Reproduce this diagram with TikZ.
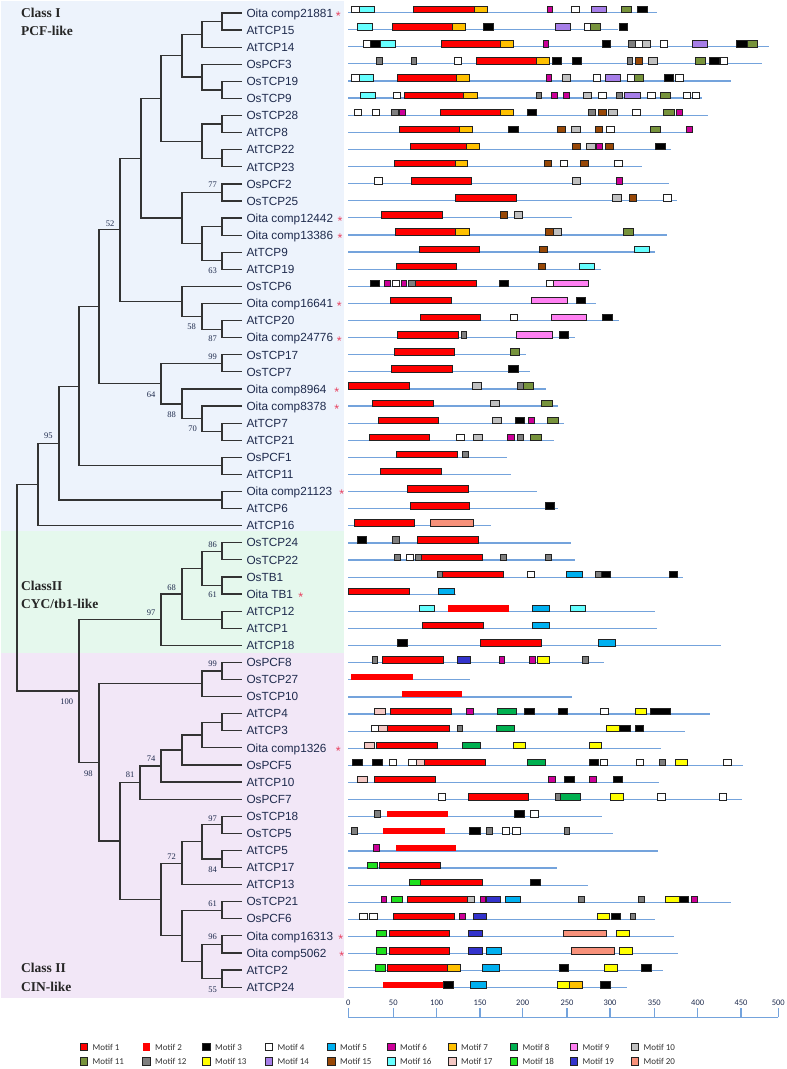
\documentclass[tikz,border=0pt]{standalone}
\usepackage{fontspec}
\setmainfont{Liberation Serif}
\newfontfamily\labfont{Liberation Sans}
\newfontfamily\smallfont{Carlito}
\usetikzlibrary{calc}
\definecolor{bgblue}{HTML}{EDF3FC}
\definecolor{bggreen}{HTML}{E5F8ED}
\definecolor{bgpurple}{HTML}{F2E7F7}
\definecolor{labcol}{HTML}{1F2B4D}
\definecolor{astcol}{HTML}{E8405E}
\definecolor{treecol}{HTML}{333333}
\definecolor{rowcol}{HTML}{74A3DC}
\definecolor{bdr}{HTML}{222222}
\definecolor{c1}{HTML}{FF0000}
\definecolor{c3}{HTML}{000000}
\definecolor{c4}{HTML}{FFFFFF}
\definecolor{c5}{HTML}{00B0F0}
\definecolor{c6}{HTML}{CC0099}
\definecolor{c7}{HTML}{FFC000}
\definecolor{c8}{HTML}{00B050}
\definecolor{c9}{HTML}{FF80F2}
\definecolor{c10}{HTML}{C0C0C0}
\definecolor{c11}{HTML}{77933C}
\definecolor{c12}{HTML}{7F7F7F}
\definecolor{c13}{HTML}{FFFF00}
\definecolor{c14}{HTML}{A67EE8}
\definecolor{c15}{HTML}{984807}
\definecolor{c16}{HTML}{66FFFF}
\definecolor{c17}{HTML}{F4C7C3}
\definecolor{c18}{HTML}{1EE01E}
\definecolor{c19}{HTML}{3333CC}
\definecolor{c20}{HTML}{F7917A}
\tikzset{
  tree/.style={draw=treecol,line width=1.2pt,line join=miter},
  leaflab/.style={anchor=base west,inner sep=0pt,text=labcol,font=\labfont\fontsize{11.8}{12}\selectfont},
  ast/.style={anchor=base,inner sep=0pt,text=astcol,font=\labfont\fontsize{12.5}{12}\selectfont},
  bs/.style={inner sep=0pt,text=labcol,font=\fontsize{8.5}{9}\selectfont},
  cls/.style={anchor=base west,inner sep=0pt,text=black!85,font=\bfseries\fontsize{13.5}{14}\selectfont},
  rowline/.style={draw=rowcol,line width=1.2pt},
  axlab/.style={inner sep=0pt,text=labcol,font=\smallfont\fontsize{8.5}{9}\selectfont},
  leglab/.style={anchor=west,inner sep=0pt,text=black!80,font=\smallfont\fontsize{9}{9}\selectfont},
  mbox/.style={draw=bdr,line width=0.9pt},
  m1/.style={mbox,fill=c1}, m2/.style={fill=c1}, m3/.style={mbox,fill=c3},
  m4/.style={mbox,fill=c4}, m5/.style={mbox,fill=c5}, m6/.style={mbox,fill=c6},
  m7/.style={mbox,fill=c7}, m8/.style={mbox,fill=c8}, m9/.style={mbox,fill=c9},
  m10/.style={mbox,fill=c10}, m11/.style={mbox,fill=c11}, m12/.style={mbox,fill=c12},
  m13/.style={mbox,fill=c13}, m14/.style={mbox,fill=c14}, m15/.style={mbox,fill=c15},
  m16/.style={mbox,fill=c16}, m17/.style={mbox,fill=c17}, m18/.style={mbox,fill=c18},
  m19/.style={mbox,fill=c19}, m20/.style={mbox,fill=c20}
}
\newcommand{\clade}[4]{%
  \path let \p1=(#3), \p2=(#4) in coordinate (#1) at (#2pt,{0.5*\y1+0.5*\y2});
  \draw[tree] (#3) -| (#1) |- (#4);}
\newcommand{\mrow}[2]{%
  \pgfmathsetmacro\myry{12.5+17.11*(#1-1)}%
  \pgfmathsetmacro\myrx{340+#2/3}%
  \draw[rowline] (348.3,\myry) -- (\myrx,\myry);}
\newcommand{\mbs}[2]{%
  \pgfmathsetmacro\myry{12.5+17.11*(#1-1)}%
  \foreach \a/\b/\s in {#2} {%
    \pgfmathsetmacro\myxa{340+\a/3}%
    \pgfmathsetmacro\myxb{340+\b/3}%
    \path[\s] (\myxa,\myry-6) rectangle (\myxb,\myry+0.4);}}
\begin{document}
\begin{tikzpicture}[x=1pt,y=-1pt]
\useasboundingbox (0,0) rectangle (787,1069);
% backgrounds
\fill[bgblue] (1,1) rectangle (344,531);
\fill[bggreen] (1,531) rectangle (344,653);
\fill[bgpurple] (1,653) rectangle (344,998);
% class labels
\node[cls] (cl1) at (21,17.5) {Class I};
\node[cls] (cl2) at (21,35.5) {PCF-like};
\node[cls] (cl3) at (21,590.5) {ClassII};
\node[cls] (cl4) at (21,608.8) {CYC/tb1-like};
\node[cls] (cl5) at (21,972.8) {Class II};
\node[cls] (cl6) at (21,991.2) {CIN-like};
% leaves
\foreach \i/\t in {1/{Oita comp21881},2/AtTCP15,3/AtTCP14,4/OsPCF3,5/OsTCP19,6/OsTCP9,7/OsTCP28,8/AtTCP8,9/AtTCP22,10/AtTCP23,
 11/OsPCF2,12/OsTCP25,13/{Oita comp12442},14/{Oita comp13386},15/AtTCP9,16/AtTCP19,17/OsTCP6,18/{Oita comp16641},19/AtTCP20,20/{Oita comp24776},
 21/OsTCP17,22/OsTCP7,23/{Oita comp8964},24/{Oita comp8378},25/AtTCP7,26/AtTCP21,27/OsPCF1,28/AtTCP11,29/{Oita comp21123},30/AtTCP6,
 31/AtTCP16,32/OsTCP24,33/OsTCP22,34/OsTB1,35/{Oita TB1},36/AtTCP12,37/AtTCP1,38/AtTCP18,39/OsPCF8,40/OsTCP27,
 41/OsTCP10,42/AtTCP4,43/AtTCP3,44/{Oita comp1326},45/OsPCF5,46/AtTCP10,47/OsPCF7,48/OsTCP18,49/OsTCP5,50/AtTCP5,
 51/AtTCP17,52/AtTCP13,53/OsTCP21,54/OsPCF6,55/{Oita comp16313},56/{Oita comp5062},57/AtTCP2,58/AtTCP24} {
  \pgfmathsetmacro\ly{13+17.09*(\i-1)}
  \coordinate (t\i) at (242,\ly);
  \node[leaflab] (l\i) at (246.3,\ly+4.2) {\t};
}
\foreach \i/\x in {1/338.3,13/340,14/340,18/339.3,20/339.3,23/336.7,24/336.7,29/341.7,35/300.7,44/338.3,55/340.7,56/341.7} {
  \node[ast] (a\i) at (\x,{13+17.09*(\i-1)+7.4}) {*};
}
% tree: class I
\clade{n1x2}{222}{t1}{t2}
\clade{n1x3}{202}{n1x2}{t3}
\clade{n5x6}{222}{t5}{t6}
\clade{n4x6}{202}{t4}{n5x6}
\clade{n1x6}{182}{n1x3}{n4x6}
\clade{n7x8}{222}{t7}{t8}
\clade{n9x10}{222}{t9}{t10}
\clade{n7x10}{202}{n7x8}{n9x10}
\clade{n1x10}{161}{n1x6}{n7x10}
\clade{n11x12}{222}{t11}{t12}
\clade{n13x14}{222}{t13}{t14}
\clade{n15x16}{222}{t15}{t16}
\clade{n13x16}{202}{n13x14}{n15x16}
\clade{n11x16}{182}{n11x12}{n13x16}
\clade{n1x16}{141}{n1x10}{n11x16}
\clade{n19x20}{222}{t19}{t20}
\clade{n18x20}{202}{t18}{n19x20}
\clade{n17x20}{182}{t17}{n18x20}
\clade{n1x20}{120}{n1x16}{n17x20}
\clade{n21x22}{222}{t21}{t22}
\clade{n25x26}{222}{t25}{t26}
\clade{n24x26}{202}{t24}{n25x26}
\clade{n23x26}{182}{t23}{n24x26}
\clade{n21x26}{161}{n21x22}{n23x26}
\clade{n1x26}{99}{n1x20}{n21x26}
\clade{n27x28}{222}{t27}{t28}
\clade{n1x28}{79}{n1x26}{n27x28}
\clade{n29x30}{222}{t29}{t30}
\clade{n1x30}{59}{n1x28}{n29x30}
\clade{n1x31}{38}{n1x30}{t31}
% class II
\clade{n32x33}{222}{t32}{t33}
\clade{n34x35}{222}{t34}{t35}
\clade{n32x35}{202}{n32x33}{n34x35}
\clade{n36x37}{222}{t36}{t37}
\clade{n32x37}{182}{n32x35}{n36x37}
\clade{n32x38}{161}{n32x37}{t38}
\clade{n39x40}{222}{t39}{t40}
\clade{n39x41}{202}{n39x40}{t41}
\clade{n42x43}{222}{t42}{t43}
\clade{n42x44}{202}{n42x43}{t44}
\clade{n42x45}{182}{n42x44}{t45}
\clade{n42x46}{161}{n42x45}{t46}
\clade{n42x47}{140}{n42x46}{t47}
\clade{n48x49}{222}{t48}{t49}
\clade{n50x51}{222}{t50}{t51}
\clade{n48x51}{202}{n48x49}{n50x51}
\clade{n48x52}{182}{n48x51}{t52}
\clade{n53x54}{222}{t53}{t54}
\clade{n55x56}{222}{t55}{t56}
\clade{n57x58}{222}{t57}{t58}
\clade{n55x58}{202}{n55x56}{n57x58}
\clade{n53x58}{182}{n53x54}{n55x58}
\clade{n48x58}{161}{n48x52}{n53x58}
\clade{n42x58}{120}{n42x47}{n48x58}
\clade{n39x58}{99}{n39x41}{n42x58}
\clade{n32x58}{79}{n32x38}{n39x58}
\clade{root}{17}{n1x31}{n32x58}
% bootstrap values
\foreach \x/\y/\v [count=\k] in {212.7/185/77,110/224/52,212.7/270.7/63,191.7/326.7/58,212.7/339/87,212.7/356.7/99,151/394.3/64,171.7/415/88,192.7/429/70,48.3/436/95,
 212.7/545/86,212.7/595/61,171.7/587.7/68,151/612.3/97,212.7/663.3/99,66.7/701.7/100,151/759/74,88.3/773.3/98,130/775/81,
 212.7/818.3/97,212.7/869.3/84,171.7/856.7/72,212.7/904/61,212.7/936.7/96,212.7/989.3/55} {
  \node[bs] (bs\k) at (\x,\y) {\v};
}
% motif rows
\foreach \r/\e in {1/952,2/835,3/1288,4/1265,5/1174,6/1085,7/1105,8/1058,9/993,10/905,11/988,12/1010,13/695,14/982,15/945,16/782,
 17/748,18/767,19/836,20/705,21/557,22/570,23/617,24/655,25/672,26/643,27/500,28/512,29/592,30/653,31/452,
 32/692,33/705,34/1028,35/347,36/945,37/952,38/1143,39/793,40/390,41/695,42/1110,43/1035,44/962,45/1208,46/958,
 47/1205,48/785,49/818,50/955,51/651,52/743,53/1174,54/946,55/1003,56/1013,57/968,58/862} {\mrow{\r}{\e}}
\mbs{1}{35/58/m4,58/102/m16,220/402/m1,402/442/m7,622/637/m6,695/717/m4,755/798/m14,845/873/m11,892/922/m3}
\mbs{2}{52/98/m16,158/338/m1,338/375/m7,430/460/m3,647/692/m14,732/752/m4,752/782/m11,837/863/m3}
\mbs{3}{70/90/m4,90/122/m3,122/167/m16,305/480/m1,480/520/m7,609/624/m6,786/812/m3,865/885/m12,885/907/m4,907/930/m10,960/982/m4,1056/1101/m14,1189/1222/m3,1222/1251/m11}
\mbs{4}{110/126/m12,213/229/m12,343/365/m4,408/590/m1,590/627/m7,638/665/m3,697/723/m3,861/877/m12,886/908/m15,926/951/m10,1066/1095/m11,1107/1137/m3,1140/1163/m4}
\mbs{5}{35/58/m4,58/101/m16,172/350/m1,350/388/m7,619/635/m6,666/692/m10,759/780/m4,796/842/m14,861/882/m4,882/911/m11,974/1000/m3,1005/1030/m4}
\mbs{6}{60/105/m16,159/180/m4,193/371/m1,371/412/m7,588/604/m12,633/652/m6,669/689/m6,731/754/m10,776/798/m4,830/846/m12,854/900/m14,922/945/m4,960/990/m11,1029/1051/m4,1056/1078/m4}
\mbs{7}{42/65/m4,97/119/m4,155/175/m12,178/197/m6,302/480/m1,480/520/m7,561/590/m3,745/765/m12,776/800/m15,806/832/m10,877/900/m4,970/1003/m11,1010/1027/m6}
\mbs{8}{179/357/m1,357/398/m7,506/536/m3,652/675/m15,694/720/m10,765/788/m15,800/823/m4,932/962/m11,1038/1058/m6}
\mbs{9}{210/378/m1,378/418/m7,697/720/m15,739/765/m10,769/788/m6,796/820/m15,946/976/m3}
\mbs{10}{162/345/m1,345/381/m7,612/635/m15,660/683/m4,722/745/m15,823/846/m4}
\mbs{11}{104/127/m4,213/395/m1,697/720/m10,830/847/m6}
\mbs{12}{346/528/m1,817/843/m10,868/890/m15,970/993/m4}
\mbs{13}{124/306/m1,480/501/m15,523/546/m10}
\mbs{14}{165/347/m1,347/388/m7,615/640/m15,640/665/m10,850/880/m11}
\mbs{15}{237/418/m1,598/621/m15,882/927/m16}
\mbs{16}{169/350/m1,595/617/m15,718/763/m16}
\mbs{17}{90/119/m3,132/150/m6,156/177/m4,183/198/m6,206/226/m12,226/409/m1,479/505/m3,619/640/m4,640/746/m9}
\mbs{18}{151/333/m1,575/682/m9,710/737/m3}
\mbs{19}{240/422/m1,510/532/m4,633/740/m9,786/816/m3}
\mbs{20}{172/354/m1,363/379/m12,530/637/m9,659/686/m3}
\mbs{21}{162/344/m1,510/539/m11}
\mbs{22}{155/337/m1,506/536/m3}
\mbs{23}{25/207/m1,397/423/m10,533/551/m12,551/579/m11}
\mbs{24}{97/279/m1,452/477/m10,605/637/m11}
\mbs{25}{114/296/m1,458/484/m10,526/553/m3,564/583/m6,622/654/m11}
\mbs{26}{87/269/m1,349/372/m4,400/426/m10,502/522/m6,533/549/m12,571/604/m11}
\mbs{27}{169/351/m1,366/385/m12}
\mbs{28}{121/303/m1}
\mbs{29}{203/385/m1}
\mbs{30}{210/388/m1,615/642/m3}
\mbs{31}{42/224/m1,271/399/m20}
\mbs{32}{52/79/m3,158/177/m12,233/416/m1}
\mbs{33}{162/181/m12,199/221/m4,227/243/m12,243/426/m1,482/500/m12,615/634/m12}
\mbs{34}{291/307/m12,307/491/m1,562/583/m4,680/726/m5,766/783/m12,783/812/m3,987/1013/m3}
\mbs{35}{25/207/m1,295/344/m5}
\mbs{36}{237/283/m16,325/508/m2,578/627/m5,691/737/m16}
\mbs{37}{247/429/m1,578/627/m5}
\mbs{38}{172/201/m3,421/603/m1,776/825/m5}
\mbs{39}{97/112/m12,127/309/m1,353/391/m19,479/494/m6,567/585/m6,591/627/m13,728/746/m12}
\mbs{40}{34/218/m2}
\mbs{41}{185/365/m2}
\mbs{42}{104/135/m17,151/333/m1,380/399/m6,472/528/m8,553/583/m3,655/683/m3,782/805/m4,885/920/m13,930/990/m3}
\mbs{43}{93/114/m4,114/142/m17,142/327/m1,353/368/m12,468/524/m8,800/838/m13,838/870/m3,885/911/m3}
\mbs{44}{73/104/m17,110/292/m1,366/422/m8,520/555/m13,748/785/m13}
\mbs{45}{38/68/m3,96/126/m3,148/170/m4,206/228/m4,228/254/m17,254/436/m1,561/617/m8,748/775/m3,780/802/m4,888/911/m4,957/975/m12,1005/1043/m13,1151/1173/m4}
\mbs{46}{52/82/m17,103/286/m1,626/645/m6,673/703/m3,748/768/m6,820/847/m3}
\mbs{47}{294/317/m4,384/566/m1,646/662/m12,662/720/m8,810/850/m13,953/975/m4,1138/1160/m4}
\mbs{48}{104/120/m12,140/325/m2,523/553/m3,571/594/m4}
\mbs{49}{35/51/m12,130/314/m2,389/420/m3,438/457/m12,486/508/m4,516/540/m4,673/689/m12}
\mbs{50}{100/119/m6,168/348/m2}
\mbs{51}{82/112/m18,117/300/m1}
\mbs{52}{209/242/m18,242/426/m1,571/601/m3}
\mbs{53}{123/139/m6,154/187/m18,202/383/m1,383/402/m10,420/436/m6,440/481/m19,496/542/m5,714/733/m12,895/913/m12,977/1017/m13,1017/1046/m3,1053/1072/m6}
\mbs{54}{58/81/m4,89/112/m4,161/344/m1,359/375/m6,400/440/m19,772/808/m13,813/840/m3,870/887/m12}
\mbs{55}{110/139/m18,147/329/m1,386/426/m19,670/798/m20,830/869/m13}
\mbs{56}{110/139/m18,147/329/m1,386/426/m19,438/484/m5,694/822/m20,837/876/m13}
\mbs{57}{107/135/m18,141/322/m1,322/360/m7,428/478/m5,659/685/m3,793/832/m13,905/935/m3}
\mbs{58}{130/311/m2,311/341/m3,390/440/m5,653/688/m13,688/726/m7,782/812/m3}
% axis
\coordinate (ax0) at (348.3,1017.3);
\coordinate (ax1) at (778.3,1017.3);
\draw[rowline] (ax0) -- (ax1);
\foreach \v/\x in {0/348.3,50/393.3,100/436.7,150/480,200/522.7,250/567,300/610,350/654.3,400/697.7,450/741,500/778.3} {
  \draw[rowline] (\x,1017.3) -- (\x,1008.3);
  \node[axlab] (tk\v) at (\x,1003) {\v};
}
% legend
\foreach \k/\x/\s in {1/80/m1,2/142.5/m2,3/202.5/m3,4/265/m4,5/327.5/m5,6/387.5/m6,7/448.5/m7,8/510/m8,9/570/m9,10/631/m10} {
  \path[\s] (\x,1043.2) rectangle ++(7.5,7.6);
  \node[leglab] (lg\k) at (\x+12.5,1047) {Motif \k};
}
\foreach \k/\x/\s in {11/80/m11,12/142.5/m12,13/202.5/m13,14/265/m14,15/327.5/m15,16/387.5/m16,17/448.5/m17,18/510/m18,19/570/m19,20/631/m20} {
  \path[\s] (\x,1057.8) rectangle ++(7.5,7.6);
  \node[leglab] (lg\k) at (\x+12.5,1061.6) {Motif \k};
}
\end{tikzpicture}
\end{document}
